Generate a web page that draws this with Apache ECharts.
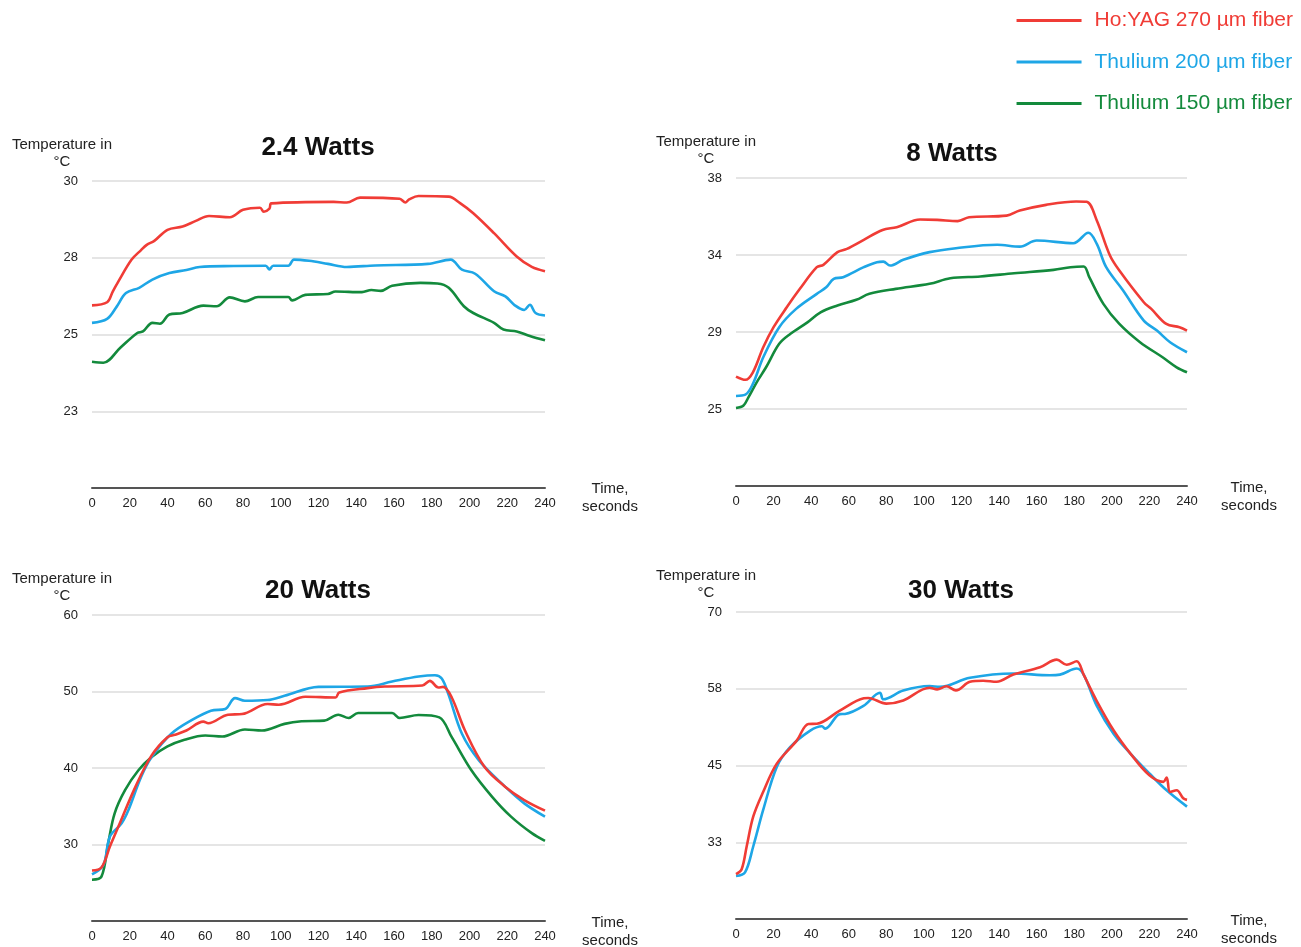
<!DOCTYPE html>
<html>
<head>
<meta charset="utf-8">
<script src="https://cdn.jsdelivr.net/npm/echarts@6/dist/echarts.min.js"></script>
<style>
html,body{margin:0;padding:0;background:#fff;}
#c{width:1301px;height:947px;}
</style>
</head>
<body>
<div id="c"></div>
<script>
// ---- Data (time in seconds, temperature in °C) ----
const seriesNames = ['Ho:YAG 270 µm fiber', 'Thulium 200 µm fiber', 'Thulium 150 µm fiber'];
const panelTitles = ['2.4 Watts', '8 Watts', '20 Watts', '30 Watts'];
const timeTicks = [0, 240, 20];
const xAxisName = 'Time,\nseconds';
const yAxisName = 'Temperature in\n°C';

// 2.4 Watts
const w24Ho = [[0,25.95],[8,26.05],[11,26.4],[14,26.73],[21,27.44],[26,27.75],[29,27.92],[33,28.05],[40,28.41],[48,28.52],[55,28.7],[62,28.86],[73,28.82],[80,29.06],[89,29.13],[91,29.0],[94,29.1],[95,29.27],[128,29.32],[135,29.3],[142,29.46],[163,29.42],[166,29.3],[168,29.4],[173,29.51],[189,29.49],[195,29.28],[202,28.95],[213,28.3],[225,27.54],[233,27.2],[240,27.06]];
const w24Tm200 = [[0,25.38],[8,25.51],[13,25.9],[18,26.35],[25,26.52],[32,26.79],[41,27.0],[50,27.1],[57,27.2],[75,27.23],[92,27.24],[94,27.12],[96,27.24],[104,27.24],[107,27.44],[115,27.4],[125,27.3],[135,27.2],[150,27.25],[178,27.3],[190,27.44],[196,27.11],[203,26.98],[213,26.41],[219,26.24],[224,25.95],[229,25.8],[232,25.97],[235,25.7],[240,25.62]];
const w24Tm150 = [[0,24.11],[6,24.08],[15,24.57],[24,25.05],[27,25.1],[32,25.38],[36,25.35],[41,25.65],[48,25.7],[59,25.94],[66,25.92],[73,26.21],[81,26.08],[88,26.22],[104,26.22],[106,26.11],[113,26.29],[125,26.32],[129,26.4],[143,26.38],[148,26.45],[153,26.42],[159,26.59],[174,26.68],[183,26.66],[189,26.52],[197,25.92],[202,25.7],[213,25.38],[218,25.16],[225,25.1],[232,24.95],[240,24.81]];

// 8 Watts
const w8Ho = [[0,26.91],[5,26.73],[9,27.15],[14.5,28.55],[20,29.67],[27,30.78],[34,31.81],[43,33.02],[46.5,33.15],[54,33.86],[59,34.04],[68,34.55],[78,35.1],[85.5,35.25],[98,35.68],[107,35.66],[118,35.59],[124,35.81],[144,35.9],[151,36.18],[165,36.5],[181,36.69],[186.6,36.67],[192,35.63],[199,33.67],[204,32.83],[217,31.06],[221,30.69],[229,29.85],[236,29.67],[240,29.48]];
const w8Tm200 = [[0,25.83],[5,25.9],[9,26.5],[14.5,27.99],[23,29.67],[32,30.69],[43,31.53],[48,31.9],[52,32.37],[57,32.46],[68,33.02],[75,33.3],[78.4,33.33],[82,33.11],[89,33.43],[103,33.86],[117,34.08],[139,34.27],[151,34.17],[160,34.51],[179.5,34.36],[187.5,34.94],[192,34.32],[197,33.02],[206,31.72],[217,30.04],[224,29.48],[231,28.83],[240,28.27]];
const w8Tm150 = [[0,25.16],[4,25.3],[6.6,25.75],[11,26.59],[16,27.43],[23,28.74],[29,29.3],[38,29.94],[45,30.5],[54,30.88],[64,31.2],[71,31.53],[85,31.81],[103,32.09],[114,32.4],[130,32.5],[148,32.68],[169,32.87],[178,33.02],[185,33.06],[188,32.46],[195.5,30.97],[204,29.85],[215,28.83],[227,27.99],[234.5,27.43],[240,27.15]];

// 20 Watts
const w20Ho = [[0,26.6],[5,27.0],[9.5,29.74],[14,32.34],[23,37.53],[31.6,41.65],[40,44.03],[44,44.34],[50,44.9],[59,46.06],[61.6,45.85],[72,46.97],[79.5,47.05],[93,48.36],[99,48.27],[113,49.31],[129,49.22],[131,49.87],[146,50.44],[155,50.65],[175,50.78],[179,51.39],[183.5,50.52],[186,50.6],[190.6,49.22],[197.6,44.9],[208,40.13],[219,37.53],[229,35.81],[240,34.42]];
const w20Tm200 = [[0,26.1],[6,27.3],[9.5,31.04],[15.7,32.78],[19.3,34.51],[26,38.83],[31.6,41.43],[42,44.47],[53,46.28],[63,47.49],[70.6,47.71],[75.8,49.14],[81,48.79],[93,48.88],[102,49.44],[120,50.61],[146,50.65],[159,51.3],[173,51.95],[181.7,52.13],[185.3,51.7],[188.8,49.66],[196,44.47],[205,41.0],[219,37.53],[229,35.38],[240,33.64]];
const w20Tm150 = [[0,25.4],[5,25.8],[8.6,30.18],[12,34.08],[17.5,37.1],[24.6,39.7],[31.6,41.43],[40,42.82],[49,43.69],[60,44.25],[69,44.12],[81,45.03],[90,44.9],[102,45.77],[111,46.11],[123,46.19],[130.5,46.97],[136,46.54],[141,47.19],[159,47.19],[163,46.54],[173,46.93],[184,46.62],[190.6,44.03],[201,39.7],[212,36.23],[222,33.64],[233,31.48],[240,30.48]];

// 30 Watts
const w30Ho = [[0,27.3],[3,28.1],[5.7,31.85],[9.2,36.7],[14.5,40.73],[21.7,45.3],[32.3,49.06],[38.5,51.76],[43,51.8],[55,53.9],[68,55.95],[70.4,56.0],[80,55.08],[89,55.6],[103,57.66],[107,57.4],[112,57.9],[117,57.24],[124.5,58.63],[131.6,58.8],[138.7,58.63],[147.6,59.82],[161.8,61.0],[170.7,62.24],[176,61.4],[181.3,61.97],[185,59.8],[192,55.5],[201,50.7],[210,46.9],[220,43.4],[227.4,42.34],[229.2,43.05],[231,40.7],[234.5,40.97],[238,39.66],[240,39.4]];
const w30Tm200 = [[0,27.0],[4.8,27.6],[9.2,31.85],[14.5,37.8],[21.7,44.76],[28.8,47.98],[39.5,50.68],[45.7,51.4],[47.5,51.0],[55.3,53.37],[58,53.4],[67.8,54.7],[76.6,56.85],[78.4,55.78],[89,57.2],[103,57.94],[108.5,57.8],[124.5,59.28],[147.6,59.98],[167,59.7],[172.4,59.8],[181.3,60.8],[185,59.8],[192,54.7],[201,50.14],[210,46.9],[220,43.7],[229,41.0],[240,38.3]];

// y-axis ranges and gridline values (labels shown rounded)
const yRanges = [[20, 30], [20.8, 38], [20, 60], [20, 70]];
const yTicks = [[22.5, 25, 27.5, 30], [25.1, 29.4, 33.7, 38], [30, 40, 50, 60], [32.5, 45, 57.5, 70]];

const panelData = [
  [w24Ho, w24Tm200, w24Tm150],
  [w8Ho, w8Tm200, w8Tm150],
  [w20Ho, w20Tm200, w20Tm150],
  [w30Ho, w30Tm200]
];

// ---- Styling / layout ----
const colors = ['#f03c36', '#1ea6e6', '#138a3c'];
const FONT = '"Liberation Sans", Arial, Helvetica, sans-serif';
const grids = [
  {left: 92, top: 181, width: 453, height: 307, outerBoundsMode: 'none'},
  {left: 736, top: 178, width: 451, height: 308, outerBoundsMode: 'none'},
  {left: 92, top: 615, width: 453, height: 306, outerBoundsMode: 'none'},
  {left: 736, top: 612, width: 451, height: 307, outerBoundsMode: 'none'}
];
const titlePos = [[318, 148], [952, 154], [318, 591], [961, 591]];
const xNamePos = [[610, 498], [1249, 497], [610, 932], [1249, 930]];

const chart = echarts.init(document.getElementById('c'));

const xAxes = grids.map((g, i) => ({
  type: 'value', gridIndex: i, min: timeTicks[0], max: timeTicks[1], interval: timeTicks[2],
  axisLine: {show: true, onZero: false, lineStyle: {color: '#555', width: 2}},
  axisTick: {show: false},
  splitLine: {show: false},
  axisLabel: {color: '#222', fontSize: 13, fontFamily: FONT, margin: 9}
}));

const yAxes = grids.map((g, i) => ({
  type: 'value', gridIndex: i, min: yRanges[i][0], max: yRanges[i][1],
  axisLine: {show: false},
  axisTick: {show: false, customValues: yTicks[i]},
  axisLabel: {customValues: yTicks[i], color: '#222', fontSize: 13, fontFamily: FONT, margin: 14,
    formatter: v => String(Math.round(v))},
  splitLine: {show: true, lineStyle: {color: '#dcdcdc', width: 1.5}},
  name: yAxisName, nameLocation: 'end', nameGap: 11,
  nameTextStyle: {color: '#222', fontSize: 15, fontFamily: FONT, align: 'center', lineHeight: 17, padding: [0, 60, 0, 0]}
}));

const series = [];
panelData.forEach((arr, p) => {
  arr.forEach((d, k) => {
    series.push({
      type: 'line', name: seriesNames[k], xAxisIndex: p, yAxisIndex: p,
      data: d, showSymbol: false, symbol: 'none',
      smooth: 0.35,
      lineStyle: {color: colors[k], width: 2.6},
      itemStyle: {color: colors[k]},
      z: 3 - k
    });
  });
});

const graphics = panelTitles.map((t, i) => ({
  type: 'text', x: titlePos[i][0], y: titlePos[i][1],
  style: {text: t, align: 'center', verticalAlign: 'middle', fill: '#111',
    font: 'bold 26px ' + FONT}
})).concat(xNamePos.map(p => ({
  type: 'text', x: p[0], y: p[1],
  style: {text: xAxisName, align: 'center', verticalAlign: 'middle', fill: '#222',
    font: '15px ' + FONT, lineHeight: 18}
})));

chart.setOption({
  animation: false,
  backgroundColor: '#fff',
  grid: grids,
  xAxis: xAxes,
  yAxis: yAxes,
  legend: {
    orient: 'vertical', right: 3, top: 5,
    icon: 'rect', itemWidth: 65, itemHeight: 3, itemGap: 20.5,
    textStyle: {fontSize: 21, fontFamily: FONT, padding: [0, 0, 0, 8]},
    data: seriesNames.map((n, k) => ({name: n, textStyle: {color: colors[k]}}))
  },
  graphic: graphics,
  series: series
});
</script>
</body>
</html>
